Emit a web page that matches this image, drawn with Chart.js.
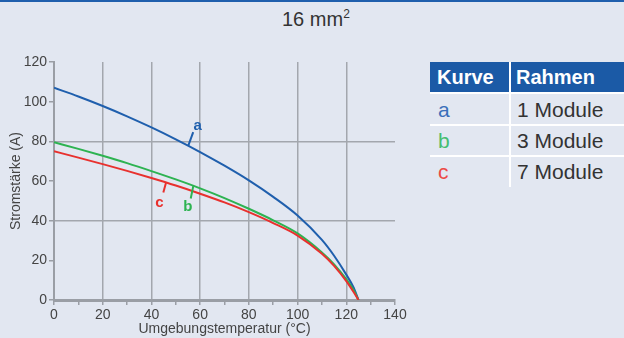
<!DOCTYPE html>
<html>
<head>
<meta charset="utf-8">
<script src="https://cdn.jsdelivr.net/npm/chart.js@4/dist/chart.umd.min.js"></script>
<style>
  html, body { margin: 0; padding: 0; }
  body {
    width: 624px; height: 338px; overflow: hidden; position: relative;
    background: #e2e7f1;
    font-family: "Liberation Sans", Arial, sans-serif;
  }
  #topline { position: absolute; left: 0; top: 0; width: 624px; height: 2px; background: #1f5fad; }
  #title { position: absolute; left: 282px; top: 8px; font-size: 20px; color: #333; white-space: nowrap; }
  #title sup { font-size: 12px; vertical-align: 8px; line-height: 0; }
  #wrap { position: absolute; left: 0; top: 0; width: 420px; height: 338px; }
  .cell { position: absolute; white-space: nowrap; line-height: 1; }
  .hdr { position: absolute; background: #1b5aa6; }
  .sep { position: absolute; background: #ffffff; }
</style>
</head>
<body>
<div id="topline"></div>
<div id="title">16 mm<sup>2</sup></div>
<div id="wrap"><canvas id="chart" width="420" height="338"></canvas></div>
<div id="legend"></div>
<script>
// Ambient temperature (°C) and current rating (A) per frame curve
const temperatures = [0, 10, 20, 30, 40, 50, 60, 70, 80, 90, 100, 110, 115, 120, 123, 125];
const curveA = [107, 102.6, 97.8, 92.6, 87, 81, 74.6, 67.7, 60.3, 52, 42.6, 30.3, 22.3, 12.8, 6.3, 0];
const curveB = [79.5, 76.2, 72.7, 69, 65, 60.8, 56.3, 51.4, 46, 40.2, 33.6, 24, 18, 10.5, 5, 0];
const curveC = [75, 71.8, 68.5, 65.1, 61.5, 57.7, 53.6, 49.2, 44.3, 38.8, 32.5, 23.3, 17.2, 9.5, 4, 0];

const curveKeys = ['a', 'b', 'c'];
const frameLabels = ['1 Module', '3 Module', '7 Module'];
const curveColors = ['#1f5fad', '#2db351', '#e8312e'];
const legendColors = ['#3a6fba', '#45bd70', '#ec4a45'];

const xTicks = [0, 20, 40, 60, 80, 100, 120, 140];
const yTicks = [0, 20, 40, 60, 80, 100, 120];

const textColor = '#444';
const gridColor = '#a3a7ae';
const axisColor = '#9a9ea5';
const fontFamily = '"Liberation Sans", Arial, sans-serif';

// Curve name callouts: attach at a temperature on the curve, leader and text offset in px
const callouts = [
  { ds: 0, t: 55.1, lx: 5, ly: -13.7, tx: 9.5, ty: -19.5 },
  { ds: 1, t: 57.2, lx: -2.6, ly: 12.7, tx: -5.6, ty: 20.7 },
  { ds: 2, t: 46, lx: -2.7, ly: 10, tx: -6.7, ty: 20 }
];

function valueAt(arr, t) {
  for (let i = 0; i < temperatures.length - 1; i++) {
    const t0 = temperatures[i], t1 = temperatures[i + 1];
    if (t >= t0 && t <= t1) {
      const f = (t - t0) / (t1 - t0);
      return arr[i] + f * (arr[i + 1] - arr[i]);
    }
  }
  return arr[arr.length - 1];
}

const calloutPlugin = {
  id: 'callouts',
  afterDatasetsDraw(chart) {
    const ctx = chart.ctx;
    const xs = chart.scales.x, ys = chart.scales.y;
    ctx.save();
    callouts.forEach(c => {
      const data = chart.data.datasets[c.ds].data.map(p => p.y);
      const px = xs.getPixelForValue(c.t);
      const py = ys.getPixelForValue(valueAt(data, c.t));
      ctx.strokeStyle = curveColors[c.ds];
      ctx.lineWidth = 2;
      ctx.beginPath();
      ctx.moveTo(px, py);
      ctx.lineTo(px + c.lx, py + c.ly);
      ctx.stroke();
      ctx.fillStyle = curveColors[c.ds];
      ctx.font = 'bold 15px ' + fontFamily;
      ctx.textAlign = 'center';
      ctx.textBaseline = 'middle';
      ctx.fillText(curveKeys[c.ds], px + c.tx, py + c.ty);
    });
    ctx.restore();
  }
};

const seriesList = [curveA, curveB, curveC];

new Chart(document.getElementById('chart'), {
  type: 'line',
  data: { datasets: seriesList.map((s, i) => ({
    label: curveKeys[i],
    data: temperatures.map((t, j) => ({ x: t, y: s[j] })),
    borderColor: curveColors[i],
    borderWidth: 2,
    pointRadius: 0,
    fill: false,
    cubicInterpolationMode: 'monotone',
    order: 2 - i
  })) },
  options: {
    responsive: false,
    animation: false,
    events: [],
    layout: { padding: { top: 62, right: 25, left: 0, bottom: 0 } },
    plugins: { legend: { display: false }, tooltip: { enabled: false } },
    scales: {
      x: {
        type: 'linear',
        min: 0, max: 140,
        afterBuildTicks(scale) {
          const t = [];
          for (let v = 0; v <= 140; v += 10) t.push({ value: v });
          scale.ticks = t;
        },
        afterFit(scale) { scale.height = 38; },
        ticks: {
          autoSkip: false,
          maxRotation: 0,
          padding: 2,
          color: textColor,
          font: { size: 14, family: fontFamily },
          callback: v => (xTicks.includes(v) ? String(v) : '')
        },
        grid: {
          color: c => (c.tick && c.tick.value % 20 === 0 && c.tick.value > 0 && c.tick.value < 140) ? gridColor : 'rgba(0,0,0,0)',
          lineWidth: 1.5,
          tickColor: axisColor,
          tickLength: 5,
          drawTicks: true
        },
        border: { display: true, color: axisColor, width: 3 },
        title: {
          display: true,
          text: 'Umgebungstemperatur (°C)',
          color: textColor,
          font: { size: 14, family: fontFamily },
          padding: { top: 0, bottom: 0 }
        }
      },
      y: {
        type: 'linear',
        min: 0, max: 120,
        afterBuildTicks(scale) { scale.ticks = yTicks.map(v => ({ value: v })); },
        afterFit(scale) { scale.width = 54; },
        ticks: {
          padding: 2,
          color: textColor,
          font: { size: 14, family: fontFamily }
        },
        grid: {
          color: c => (c.tick && (c.tick.value === 40 || c.tick.value === 80)) ? gridColor : 'rgba(0,0,0,0)',
          lineWidth: 1.5,
          tickColor: axisColor,
          tickLength: 5
        },
        border: { display: true, color: axisColor, width: 2 },
        title: {
          display: true,
          text: 'Stromstärke (A)',
          color: textColor,
          font: { size: 14, family: fontFamily },
          padding: { top: 8, bottom: 0 }
        }
      }
    }
  },
  plugins: [calloutPlugin]
});

// Curve / frame table
(function buildTable() {
  const root = document.getElementById('legend');
  const add = (cls, css, text) => {
    const d = document.createElement('div');
    d.className = cls;
    Object.assign(d.style, css);
    if (text !== undefined) d.textContent = text;
    root.appendChild(d);
    return d;
  };
  add('hdr', { left: '430px', top: '62px', width: '194px', height: '30px' });
  add('cell', { left: '437px', top: '67px', fontSize: '20px', fontWeight: 'bold', color: '#fff' }, 'Kurve');
  add('cell', { left: '516px', top: '67px', fontSize: '20px', fontWeight: 'bold', color: '#fff' }, 'Rahmen');
  add('sep', { left: '509px', top: '62px', width: '2px', height: '125px' });
  const rowLines = [92, 124, 155];
  rowLines.forEach(y => add('sep', { left: '430px', top: y + 'px', width: '194px', height: '2px' }));
  const rowCenters = [110, 141, 172];
  rowCenters.forEach((cy, i) => {
    add('cell', { left: '438px', top: (cy - 11) + 'px', fontSize: '21px', color: legendColors[i] }, curveKeys[i]);
    add('cell', { left: '517px', top: (cy - 11) + 'px', fontSize: '21px', color: '#333' }, frameLabels[i]);
  });
})();
</script>
</body>
</html>
